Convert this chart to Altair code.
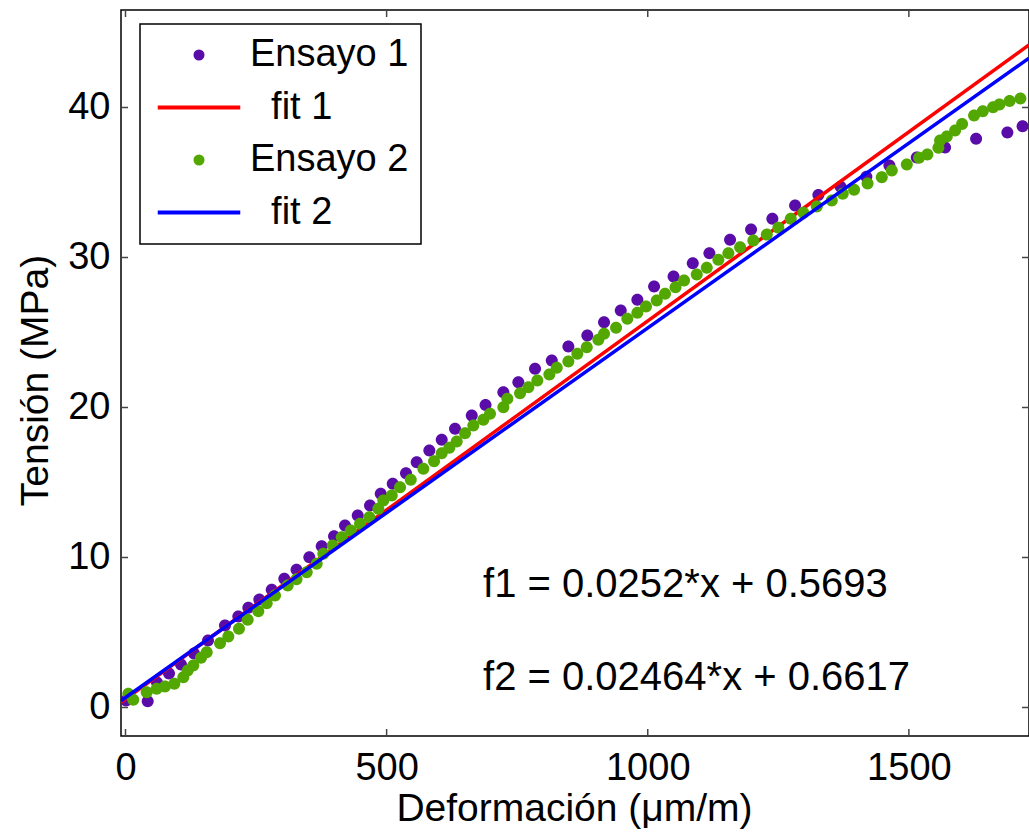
import altair as alt
import pandas as pd

NB = "\u200b\u00a0\u00a0"
SERIES = ["Ensayo 1", NB + "fit 1", "Ensayo 2", NB + "fit 2"]
COLORS = ["#5a0ca8", "#ff0000", "#52a800", "#0000ff"]
DOT = "M0.64,0A0.64,0.64,0,1,1,-0.64,0A0.64,0.64,0,1,1,0.64,0Z"
BAR = "M-7.5,0L7.5,0"
SHAPES = [DOT, BAR, DOT, BAR]

e1_x = [1.0, 42.5, 60.3, 83.3, 106.3, 131.2, 158.0, 190.5, 216.0, 235.2, 256.2, 280.0,
        304.1, 327.5, 352.0, 375.7, 399.3, 420.3, 444.7, 468.2, 488.7, 511.7, 537.1,
        557.6, 581.8, 605.5, 631.0, 663.0, 689.4, 723.5, 752.2, 784.2, 816.2, 848.0,
        884.3, 916.3, 948.3, 980.1, 1012.1, 1049.4, 1086.2, 1118.0, 1157.6, 1197.8,
        1238.6, 1282.1, 1326.7, 1369.2, 1418.6, 1462.7, 1515.1, 1569.3, 1628.7,
        1688.6, 1717.7]
e1_y = [0.47, 0.42, 1.67, 2.27, 2.87, 3.60, 4.47, 5.47, 6.07, 6.65, 7.20, 7.85,
        8.58, 9.18, 10.02, 10.75, 11.42, 12.13, 12.80, 13.47, 14.25, 14.91, 15.62,
        16.35, 17.13, 17.85, 18.58, 19.47, 20.17, 21.02, 21.69, 22.58, 23.13, 24.07,
        24.80, 25.69, 26.47, 27.18, 28.07, 28.73, 29.62, 30.29, 31.18, 31.87,
        32.58, 33.47, 34.17, 34.71, 35.38, 36.13, 36.67, 37.33, 37.91,
        38.33, 38.75]

e2_x = [5.4, 14.9, 40.6, 59.7, 75.6, 93.5, 110.7, 119.1, 129.8, 144.6, 155.5, 181.0,
        196.9, 217.3, 234.0, 254.3, 270.4, 286.3, 310.6, 327.5, 347.0, 366.1, 378.8,
        396.8, 414.0, 431.3, 449.1, 466.9, 484.1, 493.7, 509.8, 525.7, 546.2, 570.3,
        590.8, 605.5, 620.1, 634.2, 650.1, 666.0, 685.2, 698.0, 723.5, 731.1, 755.5,
        771.4, 788.6, 811.6, 825.8, 848.0, 865.2, 883.2, 905.4, 916.3, 939.3, 960.9,
        980.1, 996.7, 1017.2, 1033.1, 1053.2, 1069.5, 1093.8, 1113.0, 1135.2, 1154.4,
        1176.8, 1202.2, 1227.9, 1250.1, 1273.8, 1298.0, 1323.6, 1352.4, 1373.4,
        1395.1, 1420.9, 1448.1, 1467.3, 1496.0, 1519.5, 1535.4, 1556.5, 1559.7,
        1572.6, 1588.5, 1601.9, 1624.8, 1641.5, 1661.2, 1673.3, 1692.8, 1713.5]
e2_y = [0.91, 0.51, 1.02, 1.25, 1.40, 1.58, 2.02, 2.47, 2.80, 3.31, 3.69, 4.29,
        4.73, 5.25, 5.85, 6.42, 6.95, 7.47, 8.13, 8.55, 9.02, 9.58, 10.25,
        10.80, 11.35, 11.80, 12.25, 12.69, 13.25, 13.80, 14.13, 14.69, 15.18, 15.91,
        16.42, 16.95, 17.31, 17.73, 18.29, 18.80, 19.18, 19.58, 20.02, 20.58, 20.95,
        21.35, 21.80, 22.20, 22.65, 23.07, 23.58, 24.02, 24.51, 24.91, 25.31, 25.91,
        26.31, 26.73, 27.13, 27.58, 28.02, 28.47, 28.87, 29.31, 29.85, 30.29,
        30.69, 31.13, 31.53, 31.98, 32.58, 32.98, 33.40, 33.80, 34.25,
        34.51, 34.93, 35.35, 35.80, 36.20, 36.65, 36.87, 37.31, 37.80,
        38.07, 38.47, 38.90, 39.47, 39.75, 40.02, 40.20, 40.43, 40.60]

fit1_x = [-8.6, 1730.0]
fit1_y = [0.35, 44.17]
fit2_x = [-8.6, 1730.0]
fit2_y = [0.45, 43.29]

X_TICKS = [0, 500, 1000, 1500]
Y_TICKS = [0, 10, 20, 30, 40]
X_DOMAIN = [-8.6, 1730.0]
Y_DOMAIN = [-1.9, 46.5]

ANNOT_TEXT = ["f1 = 0.0252*x + 0.5693", "f2 = 0.02464*x + 0.6617"]
ANNOT_X = [684.6, 684.6]
ANNOT_Y = [7.4, 1.2]

FONT = "Liberation Sans"
W, H = 908, 726


def frame(xs, ys, name):
    return pd.DataFrame({"x": xs, "y": ys, "serie": [name] * len(xs)})


df_e1 = frame(e1_x, e1_y, SERIES[0])
df_f1 = frame(fit1_x, fit1_y, SERIES[1])
df_e2 = frame(e2_x, e2_y, SERIES[2])
df_f2 = frame(fit2_x, fit2_y, SERIES[3])

xscale = alt.Scale(domain=X_DOMAIN, nice=False, zero=False)
yscale = alt.Scale(domain=Y_DOMAIN, nice=False, zero=False)

x_axis = alt.Axis(
    values=X_TICKS,
    format="d",
    title="Deformación (μm/m)",
    labelPadding=13,
    titleX=453,
    titleY=84,
    titleBaseline="alphabetic",
    titleAlign="center",
)
y_axis = alt.Axis(
    values=Y_TICKS,
    format="d",
    title="Tensión (MPa)",
    labelPadding=11,
    titleX=-74,
    titleY=370,
    titleAngle=270,
    titleBaseline="alphabetic",
    titleAlign="center",
)

legend = alt.Legend(
    title=None,
    orient="none",
    legendX=19,
    legendY=14,
    direction="vertical",
    fillColor="white",
    strokeColor="black",
    padding=12,
    cornerRadius=0,
    labelFont=FONT,
    labelFontSize=38,
    labelColor="black",
    labelLimit=400,
    labelOffset=32,
    symbolOffset=28,
    symbolSize=121,
    symbolStrokeWidth=4,
    symbolOpacity=1,
    rowPadding=14.5,
)

color = alt.Color("serie:N", scale=alt.Scale(domain=SERIES, range=COLORS), sort=SERIES, legend=legend)
shape = alt.Shape("serie:N", scale=alt.Scale(domain=SERIES, range=SHAPES), sort=SERIES, legend=legend)

X = alt.X("x:Q", scale=xscale, axis=x_axis)
Y = alt.Y("y:Q", scale=yscale, axis=y_axis)

PT_SIZE = 350

pts1 = alt.Chart(df_e1).mark_point(filled=True, size=PT_SIZE, opacity=1, clip=True).encode(
    x=X, y=Y, color=color, shape=shape
)
line1 = alt.Chart(df_f1).mark_line(strokeWidth=3.5, clip=True).encode(x=X, y=Y, color=color)
pts2 = alt.Chart(df_e2).mark_point(filled=True, size=PT_SIZE, opacity=1, clip=True).encode(
    x=X, y=Y, color=color, shape=shape
)
line2 = alt.Chart(df_f2).mark_line(strokeWidth=3.5, clip=True).encode(x=X, y=Y, color=color)

annot = alt.Chart(pd.DataFrame({"x": ANNOT_X, "y": ANNOT_Y, "t": ANNOT_TEXT})).mark_text(
    align="left", baseline="alphabetic", font=FONT, fontSize=40, color="black"
).encode(x=X, y=Y, text="t:N")

xt = pd.DataFrame({"x": X_TICKS})
yt = pd.DataFrame({"y": Y_TICKS})
TICK_COLOR = "#444444"
tick_b = alt.Chart(xt).mark_rule(color=TICK_COLOR, strokeWidth=1.5).encode(
    x=X, y=alt.value(H), y2=alt.value(H - 7)
)
tick_t = alt.Chart(xt).mark_rule(color=TICK_COLOR, strokeWidth=1.5).encode(
    x=X, y=alt.value(0), y2=alt.value(7)
)
tick_l = alt.Chart(yt).mark_rule(color=TICK_COLOR, strokeWidth=1.5).encode(
    y=Y, x=alt.value(0), x2=alt.value(7)
)
tick_r = alt.Chart(yt).mark_rule(color=TICK_COLOR, strokeWidth=1.5).encode(
    y=Y, x=alt.value(W - 7), x2=alt.value(W)
)

chart = (
    alt.layer(pts1, line1, pts2, line2, annot, tick_b, tick_t, tick_l, tick_r)
    .properties(
        width=W,
        height=H,
        autosize=alt.AutoSizeParams(type="none"),
        padding={"left": 121, "top": 10, "right": 0, "bottom": 100},
    )
    .configure(font=FONT)
    .configure_view(stroke="black", strokeWidth=1.5)
    .configure_axis(
        grid=False,
        domain=False,
        ticks=False,
        tickSize=0,
        labelFont=FONT,
        labelFontSize=38,
        labelColor="black",
        titleFont=FONT,
        titleFontSize=39,
        titleFontWeight="normal",
        titleColor="black",
    )
    .configure_legend(strokeWidth=1.5)
)

chart.save("out.html", embed_options={"renderer": "svg", "actions": False})
